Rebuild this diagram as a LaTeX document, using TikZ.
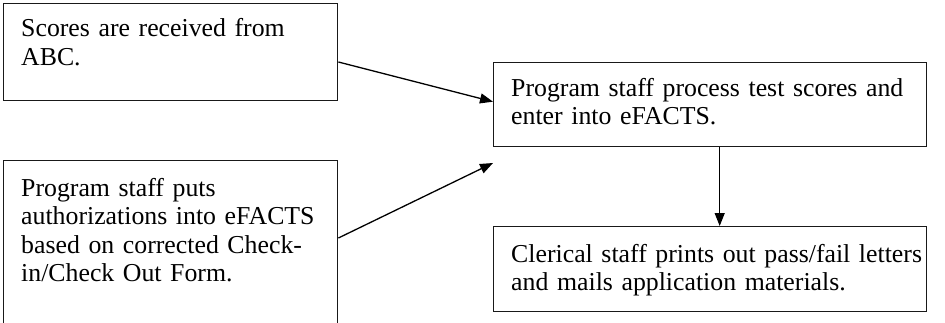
\documentclass[tikz,border=0pt]{standalone}
\usepackage{fontspec}
\setmainfont{Liberation Serif}
\usetikzlibrary{arrows.meta}
\setlength{\parindent}{0pt}
\begin{document}
\begin{tikzpicture}[x=1pt,y=-1pt,
  stepbox/.style={draw=black!90, line width=1.4pt, inner sep=0pt, anchor=north west},
  steptext/.style={anchor=north west, inner sep=0pt, text width=440pt, align=left,
    font=\fontsize{25.8}{28.5}\selectfont},
  flow/.style={line width=1.3pt, -{Triangle[length=13pt,width=10pt]}}]
\useasboundingbox (0,0) rectangle (945,322);
\clip (0,0) rectangle (945,322);

% process boxes
\node[stepbox, minimum width=334pt, minimum height=97pt]  (b1) at (3,3) {};
\node[stepbox, minimum width=334pt, minimum height=175pt] (b2) at (3,160) {};
\node[stepbox, minimum width=433pt, minimum height=84pt]  (b3) at (493,62) {};
\node[stepbox, minimum width=433pt, minimum height=85pt]  (b4) at (493,226) {};

% box texts, top-aligned
\node[steptext] (t1) at (21,16.7) {\rule{0pt}{20pt}Scores are received from\\ABC.};
\node[steptext] (t2) at (21,176) {\rule{0pt}{20pt}Program staff puts\\authorizations into eFACTS\\based on corrected Check-\\in/Check Out Form.};
\node[steptext] (t3) at (511,76) {\rule{0pt}{20pt}Program staff process test scores and\\enter into eFACTS.};
\node[steptext] (t4) at (511,242) {\rule{0pt}{20pt}Clerical staff prints out pass/fail letters\\and mails application materials.};

% connectors
\coordinate (e2) at (493,163);
\draw[flow] ([yshift=-59pt]b1.north east) -- ([yshift=3pt]b3.west);
\draw[flow] ([yshift=-78pt]b2.north east) -- (e2);
\draw[flow] ([xshift=9.5pt]b3.south) -- ([xshift=9.5pt]b4.north);
\end{tikzpicture}
\end{document}
